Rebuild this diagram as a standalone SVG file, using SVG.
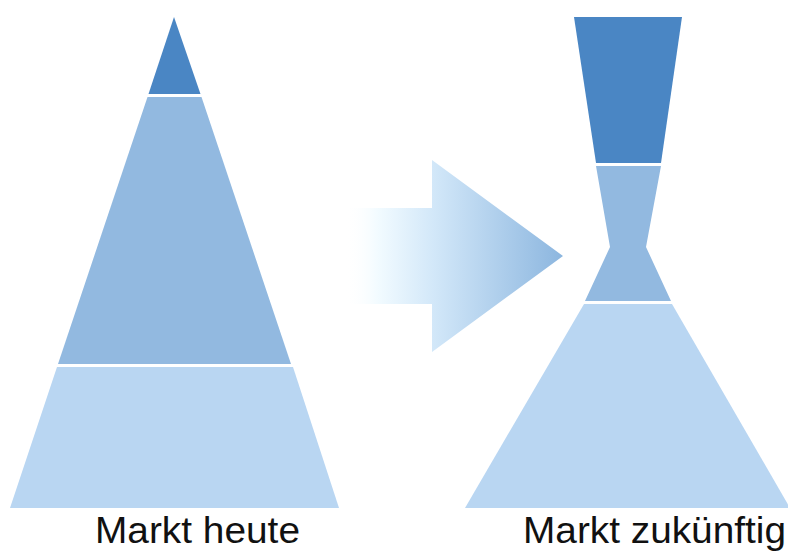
<svg xmlns="http://www.w3.org/2000/svg" width="788" height="552" viewBox="0 0 788 552">
<defs>
<style>
.dark{fill:#4a86c4}
.mid{fill:#92b9e0}
.light{fill:#b9d6f2}
.lbl{font-family:"Liberation Sans",Arial,sans-serif;font-size:36px;fill:#111}
</style>
<linearGradient id="ag" gradientUnits="userSpaceOnUse" x1="345" y1="0" x2="563" y2="0">
<stop offset="0" stop-color="#ffffff" stop-opacity="0"/>
<stop offset="0.15" stop-color="#f2fbff"/>
<stop offset="0.4" stop-color="#d3e8f9"/>
<stop offset="1" stop-color="#8cb6df"/>
</linearGradient>
</defs>
<rect width="788" height="552" fill="#ffffff"/>
<g id="markt-heute">
<polygon class="dark" points="174,17 148.5,94 200.5,94"/>
<polygon class="mid" points="147.5,97 201.5,97 291,364 58,364"/>
<polygon class="light" points="57,367 293,367 339,508 10,508"/>
<text class="lbl" x="95" y="543" textLength="205" lengthAdjust="spacingAndGlyphs">Markt heute</text>
</g>
<g id="arrow">
<polygon fill="url(#ag)" points="345,208 432,208 432,160 563,256 432,352 432,304 345,304"/>
</g>
<g id="markt-zukuenftig">
<polygon class="dark" points="574,17 682,17 661,163 596,163"/>
<polygon class="mid" points="596,166 661,166 646,247 671,301 585,301 610,247"/>
<polygon class="light" points="584,304 672,304 790,508 465,508"/>
<text class="lbl" x="523" y="543" textLength="263" lengthAdjust="spacingAndGlyphs">Markt zukünftig</text>
</g>
</svg>
